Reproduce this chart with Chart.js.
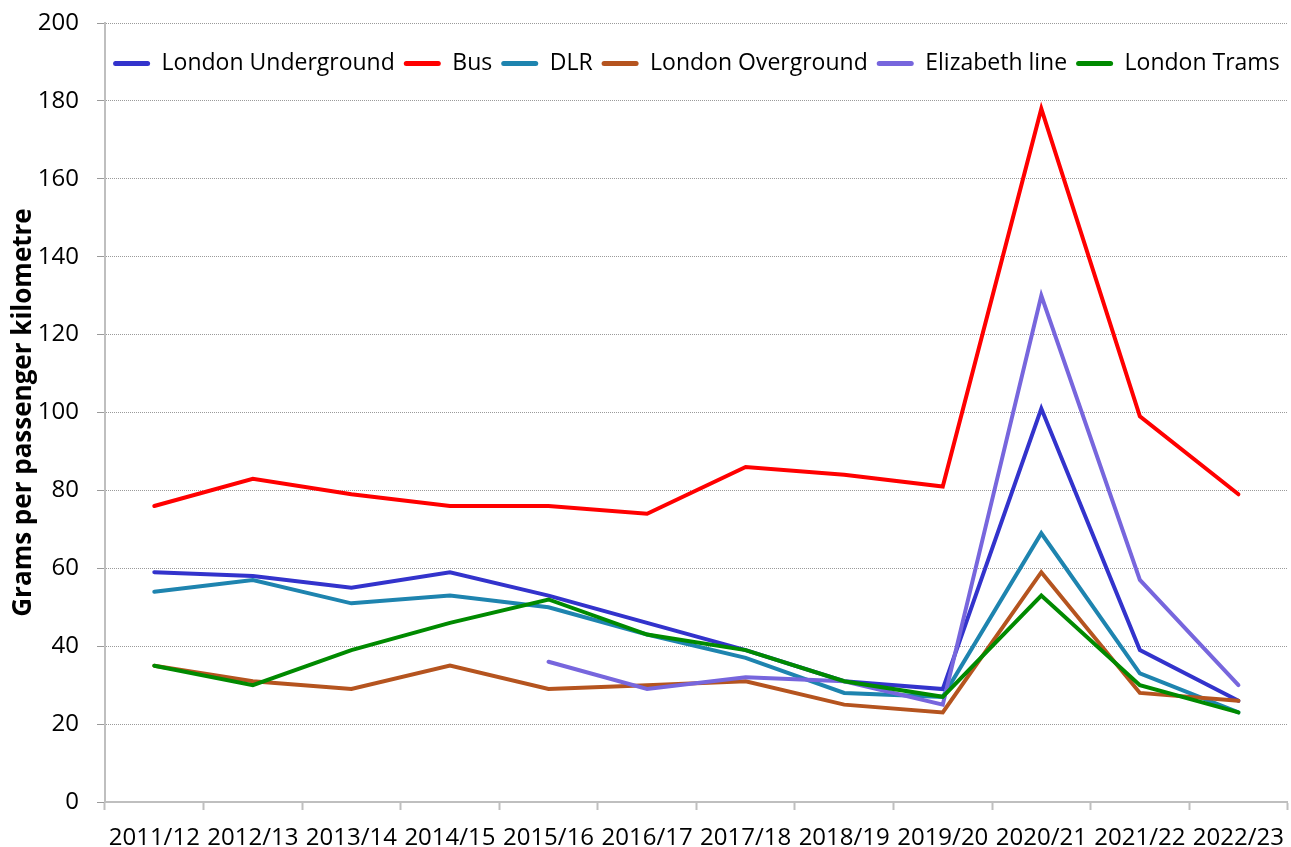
<!DOCTYPE html>
<html>
<head>
<meta charset="utf-8">
<script src="https://cdn.jsdelivr.net/npm/chart.js@4"></script>
<style>
  html, body { margin: 0; padding: 0; background: #fff; overflow: hidden; }
  #wrap { width: 1298px; height: 847px; position: relative; }
</style>
</head>
<body>
<div id="wrap"><canvas id="chart"></canvas></div>
<script>
// tick labels / categories
const years = ['2011/12', '2012/13', '2013/14', '2014/15', '2015/16', '2016/17',
               '2017/18', '2018/19', '2019/20', '2020/21', '2021/22', '2022/23'];

// grams CO2 per passenger km
const underground = [59, 58, 55, 59, 53, 46, 39, 31, 29, 101, 39, 26];
const bus         = [76, 83, 79, 76, 76, 74, 86, 84, 81, 178, 99, 79];
const dlr         = [54, 57, 51, 53, 50, 43, 37, 28, 27, 69, 33, 23];
const overground  = [35, 31, 29, 35, 29, 30, 31, 25, 23, 59, 28, 26];
const elizabeth   = [null, null, null, null, 36, 29, 32, 31, 25, 130, 57, 30];
const trams       = [35, 30, 39, 46, 52, 43, 39, 31, 27, 53, 30, 23];

const seriesNames = ['London Underground', 'Bus', 'DLR', 'London Overground', 'Elizabeth line', 'London Trams'];
const seriesData = [underground, bus, dlr, overground, elizabeth, trams];
const seriesColors = ['#3333CC', '#FF0000', '#1E84AF', '#B5541F', '#7766DD', '#008A00'];

const FONT = "'Open Sans', 'DejaVu Sans', sans-serif";

// legend sits inside the plot: take no layout room, then centre it over the chart area
const legendInside = {
  id: 'legendInside',
  afterInit(chart) {
    const lg = chart.legend;
    const fit = lg.fit;
    lg.fit = function () {
      fit.call(this);
      this.height = 0;
    };
  },
  afterLayout(chart) {
    const lg = chart.legend;
    const area = chart.chartArea;
    lg.left = area.left - 40;
    lg.right = area.right + 40;
    lg.width = lg.right - lg.left;
    lg.top = area.top + 20;
    lg.height = 50;
    lg.bottom = lg.top + lg.height;
  }
};

const datasets = seriesNames.map((name, i) => ({
  label: name,
  data: seriesData[i],
  borderColor: seriesColors[i],
  backgroundColor: seriesColors[i],
  borderWidth: 4,
  borderCapStyle: 'round',
  pointRadius: 0,
  tension: 0,
  order: seriesNames.length - i
}));

new Chart(document.getElementById('chart'), {
  type: 'line',
  data: { labels: years, datasets: datasets },
  plugins: [legendInside],
  options: {
    responsive: true,
    maintainAspectRatio: false,
    animation: false,
    layout: { padding: { top: 23, left: 0, right: 0, bottom: 0 } },
    plugins: {
      tooltip: { enabled: false },
      legend: {
        position: 'top',
        align: 'center',
        labels: {
          font: { family: FONT, size: 23 },
          color: '#000',
          boxWidth: 37,
          boxHeight: 5,
          padding: 9,
          useBorderRadius: true,
          borderRadius: 2.5,
          sort: (a, b) => a.datasetIndex - b.datasetIndex,
          generateLabels(chart) {
            return chart.data.datasets.map((ds, i) => ({
              text: ds.label,
              fillStyle: ds.borderColor,
              strokeStyle: ds.borderColor,
              lineWidth: 0,
              borderRadius: 2.5,
              fontColor: '#000',
              datasetIndex: i,
              hidden: false
            }));
          }
        }
      }
    },
    scales: {
      x: {
        offset: true,
        grid: {
          offset: true,
          drawOnChartArea: false,
          drawTicks: true,
          tickLength: 8,
          tickColor: '#BFBFBF',
          tickWidth: 2
        },
        border: { display: true, color: '#BFBFBF', width: 2 },
        ticks: {
          color: '#000',
          font: { family: FONT, size: 24 },
          padding: 14,
          maxRotation: 0,
          autoSkip: false
        },
        afterFit(scale) { scale.height = 45; }
      },
      y: {
        min: 0,
        max: 200,
        grid: {
          color: '#9A9A9A',
          lineWidth: 1,
          tickLength: 8,
          tickColor: '#9A9A9A',
          tickBorderDash: []
        },
        border: { display: true, color: '#BFBFBF', width: 2, dash: [1, 1] },
        ticks: {
          stepSize: 20,
          color: '#000',
          font: { family: FONT, size: 24 },
          padding: 18
        },
        title: {
          display: true,
          text: 'Grams per passenger kilometre',
          color: '#000',
          font: { family: FONT, size: 26, weight: 'bold' },
          padding: { top: 8, bottom: 0 }
        },
        afterFit(scale) {
          scale.width = 105;
          scale.paddingTop = 0;
          scale.paddingBottom = 0;
        }
      }
    }
  }
});
</script>
</body>
</html>
